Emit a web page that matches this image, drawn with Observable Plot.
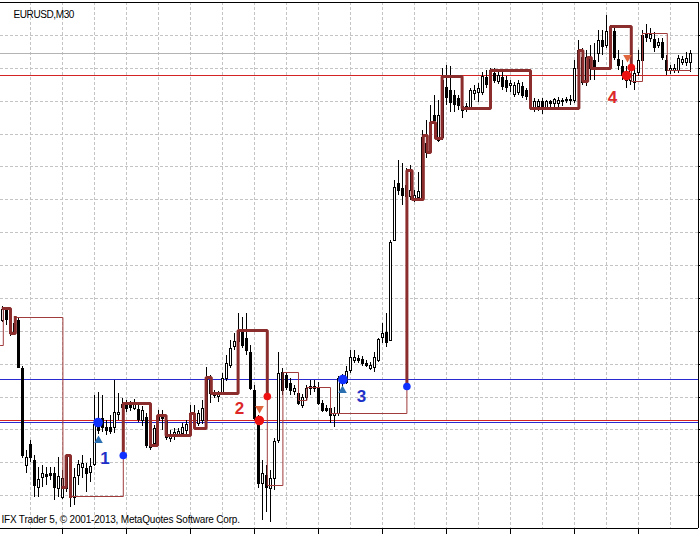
<!DOCTYPE html>
<html><head><meta charset="utf-8">
<script src="https://cdn.jsdelivr.net/npm/d3@7"></script>
<script src="https://cdn.jsdelivr.net/npm/@observablehq/plot@0.6"></script>
<style>
html,body{margin:0;padding:0;background:#fff;}
#chart{width:700px;height:534px;overflow:hidden;}
</style></head><body><div id="chart"></div>
<script>
const symbolTitle = "EURUSD,M30";
const footerText = "IFX Trader 5, © 2001-2013, MetaQuotes Software Corp.";

// M30 candles, index 0..172
const open = [1.34633,1.34663,1.34627,1.34599,1.34633,1.34487,1.34192,1.34256,1.34207,1.34125,
1.34155,1.34164,1.34167,1.34167,1.34122,1.34094,1.34216,1.34213,1.34094,1.34161,
1.34186,1.34183,1.34170,1.34195,1.34329,1.34335,1.34307,1.34307,1.34307,1.34347,
1.34368,1.34374,1.34377,1.34365,1.34362,1.34329,1.34338,1.34246,1.34259,1.34329,
1.34344,1.34329,1.34274,1.34283,1.34286,1.34289,1.34298,1.34319,1.34344,1.34319,
1.34329,1.34329,1.34450,1.34414,1.34402,1.34414,1.34456,1.34496,1.34554,1.34569,
1.34596,1.34578,1.34535,1.34420,1.34329,1.34137,1.34161,1.34122,1.34152,1.34268,
1.34475,1.34465,1.34441,1.34417,1.34411,1.34374,1.34398,1.34426,1.34426,1.34429,
1.34380,1.34365,1.34365,1.34344,1.34350,1.34444,1.34444,1.34481,1.34511,1.34517,
1.34514,1.34502,1.34487,1.34490,1.34511,1.34581,1.34596,1.34572,1.34876,1.35049,
1.35034,1.35010,1.35010,1.35001,1.35007,1.35007,1.35171,1.35150,1.35256,1.35180,
1.35189,1.35341,1.35332,1.35317,1.35308,1.35271,1.35278,1.35278,1.35323,1.35326,
1.35326,1.35372,1.35369,1.35384,1.35360,1.35372,1.35363,1.35348,1.35320,1.35326,
1.35345,1.35332,1.35302,1.35281,1.35284,1.35299,1.35281,1.35299,1.35293,1.35293,
1.35299,1.35302,1.35302,1.35302,1.35399,1.35433,1.35357,1.35430,1.35424,1.35445,
1.35484,1.35469,1.35515,1.35512,1.35427,1.35405,1.35387,1.35363,1.35357,1.35387,
1.35424,1.35506,1.35490,1.35487,1.35469,1.35478,1.35424,1.35393,1.35393,1.35393,
1.35418,1.35418,1.35418];
const high = [1.34675,1.34672,1.34633,1.34639,1.34639,1.34493,1.34237,1.34268,1.34222,1.34186,
1.34192,1.34186,1.34186,1.34186,1.34216,1.34176,1.34222,1.34219,1.34183,1.34207,
1.34222,1.34198,1.34213,1.34405,1.34414,1.34405,1.34329,1.34344,1.34450,1.34411,
1.34395,1.34389,1.34386,1.34392,1.34374,1.34371,1.34350,1.34277,1.34313,1.34359,
1.34359,1.34335,1.34298,1.34304,1.34304,1.34319,1.34329,1.34374,1.34374,1.34359,
1.34389,1.34490,1.34465,1.34420,1.34417,1.34472,1.34526,1.34572,1.34593,1.34654,
1.34642,1.34654,1.34557,1.34435,1.34344,1.34207,1.34192,1.34176,1.34274,1.34535,
1.34487,1.34475,1.34456,1.34435,1.34435,1.34408,1.34435,1.34450,1.34450,1.34444,
1.34389,1.34374,1.34380,1.34368,1.34462,1.34468,1.34493,1.34542,1.34542,1.34526,
1.34523,1.34511,1.34505,1.34535,1.34578,1.34624,1.34654,1.34876,1.35059,1.35119,
1.35110,1.35095,1.35104,1.35028,1.35083,1.35211,1.35241,1.35287,1.35317,1.35302,
1.35399,1.35408,1.35405,1.35332,1.35317,1.35302,1.35293,1.35338,1.35347,1.35354,
1.35387,1.35393,1.35399,1.35399,1.35387,1.35387,1.35375,1.35363,1.35357,1.35363,
1.35357,1.35338,1.35317,1.35308,1.35305,1.35308,1.35302,1.35302,1.35308,1.35311,
1.35308,1.35311,1.35317,1.35424,1.35484,1.35460,1.35454,1.35469,1.35475,1.35515,
1.35515,1.35560,1.35530,1.35521,1.35454,1.35424,1.35405,1.35418,1.35405,1.35454,
1.35515,1.35533,1.35521,1.35509,1.35490,1.35490,1.35439,1.35408,1.35411,1.35439,
1.35436,1.35448,1.35454];
const low = [1.34627,1.34618,1.34584,1.34590,1.34487,1.34213,1.34167,1.34201,1.34094,1.34094,
1.34125,1.34131,1.34146,1.34085,1.34094,1.34088,1.34110,1.34064,1.34070,1.34131,
1.34152,1.34110,1.34140,1.34189,1.34286,1.34292,1.34283,1.34286,1.34289,1.34329,
1.34353,1.34353,1.34356,1.34359,1.34322,1.34310,1.34243,1.34237,1.34249,1.34298,
1.34298,1.34268,1.34262,1.34268,1.34277,1.34277,1.34283,1.34313,1.34304,1.34310,
1.34316,1.34319,1.34380,1.34395,1.34383,1.34405,1.34447,1.34487,1.34542,1.34557,
1.34548,1.34526,1.34420,1.34329,1.34122,1.34024,1.34049,1.34018,1.34116,1.34259,
1.34405,1.34420,1.34405,1.34405,1.34374,1.34365,1.34389,1.34405,1.34414,1.34374,
1.34353,1.34353,1.34319,1.34307,1.34341,1.34432,1.34438,1.34472,1.34502,1.34502,
1.34493,1.34490,1.34481,1.34475,1.34505,1.34563,1.34551,1.34569,1.34873,1.35013,
1.34983,1.34998,1.34998,1.34992,1.35001,1.35001,1.35125,1.35144,1.35186,1.35174,
1.35180,1.35287,1.35265,1.35265,1.35271,1.35247,1.35265,1.35271,1.35302,1.35296,
1.35317,1.35338,1.35363,1.35354,1.35351,1.35332,1.35326,1.35326,1.35311,1.35317,
1.35308,1.35302,1.35271,1.35265,1.35268,1.35259,1.35271,1.35271,1.35281,1.35271,
1.35284,1.35293,1.35287,1.35293,1.35387,1.35348,1.35345,1.35363,1.35363,1.35418,
1.35439,1.35460,1.35484,1.35424,1.35393,1.35363,1.35338,1.35348,1.35332,1.35375,
1.35418,1.35478,1.35478,1.35448,1.35460,1.35424,1.35378,1.35381,1.35384,1.35384,
1.35408,1.35405,1.35387];
const close = [1.34666,1.34636,1.34593,1.34624,1.34490,1.34222,1.34216,1.34216,1.34131,1.34149,
1.34167,1.34158,1.34161,1.34125,1.34158,1.34152,1.34122,1.34094,1.34155,1.34195,
1.34198,1.34167,1.34189,1.34316,1.34298,1.34307,1.34298,1.34295,1.34353,1.34353,
1.34377,1.34365,1.34368,1.34377,1.34332,1.34359,1.34252,1.34268,1.34304,1.34341,
1.34335,1.34277,1.34283,1.34292,1.34295,1.34307,1.34316,1.34350,1.34313,1.34350,
1.34365,1.34456,1.34411,1.34405,1.34411,1.34456,1.34502,1.34548,1.34569,1.34602,
1.34557,1.34542,1.34426,1.34335,1.34137,1.34167,1.34125,1.34152,1.34265,1.34472,
1.34420,1.34429,1.34420,1.34426,1.34380,1.34398,1.34426,1.34432,1.34432,1.34380,
1.34359,1.34359,1.34344,1.34350,1.34456,1.34459,1.34478,1.34520,1.34520,1.34511,
1.34502,1.34496,1.34496,1.34520,1.34575,1.34593,1.34566,1.34870,1.35037,1.35028,
1.35013,1.35043,1.35028,1.35013,1.35025,1.35189,1.35144,1.35235,1.35241,1.35256,
1.35363,1.35311,1.35296,1.35290,1.35287,1.35284,1.35284,1.35332,1.35332,1.35338,
1.35375,1.35351,1.35393,1.35363,1.35378,1.35345,1.35341,1.35354,1.35348,1.35354,
1.35317,1.35314,1.35284,1.35299,1.35299,1.35284,1.35299,1.35293,1.35305,1.35302,
1.35302,1.35305,1.35305,1.35399,1.35454,1.35357,1.35433,1.35399,1.35399,1.35484,
1.35466,1.35512,1.35509,1.35433,1.35408,1.35378,1.35363,1.35393,1.35384,1.35424,
1.35499,1.35493,1.35503,1.35463,1.35478,1.35433,1.35393,1.35399,1.35399,1.35430,
1.35427,1.35430,1.35445];

// stepped trend indicator: level starts (candle index), level price, line style
const stepStart = [-0.5,0.2,2,3.2,15.1,15.9,17,30.2,37,38.75,40.9,47,48,50.9,52.2,58.9,66.2,70.1,74,76.1,82,
  101.1,102.4,105.2,106.2,107,108.25,109.9,114.9,122,132,144.1,145.1,146.3,147.2,152,157.2,160,166.2];
const stepLevel = [1.34557,1.34669,1.34593,1.34642,1.34125,1.34222,1.34097,1.34380,1.34252,1.34344,1.34283,1.34350,1.34304,1.34459,1.34411,1.34602,1.34131,1.34475,1.34389,1.34429,1.34350,
  1.35089,1.35001,1.35195,1.35144,1.35235,1.35186,1.35375,1.35278,1.35393,1.35278,1.35454,1.35360,1.35433,1.35399,1.35526,1.35359,1.35506,1.35393];
const stepStyle = ["thin","thick","thick","thin","thick","thick","thin","thick","thick","thick","thick","thick","thick","thick","thick","thick","thin","thin","thin","thin","thin",
  "thick","thick","thick","thick","thick","thick","thick","thick","thick","thick","thick","thick","thick","thick","thick","thin","thin","thin"];
const stepEnd = 172;

// trend switch dots on the indicator
const switchIdx = [30.2, 66.2, 101.1, 157.2];
const switchPrice = [1.34222, 1.34402, 1.34432, 1.35402];
const switchDir = ["buy", "sell", "buy", "sell"];

// numbered signals
const signalLabel = ["1", "2", "3", "4"];
const signalIdx = [23.9, 64.2, 85.1, 156];
const signalPrice = [1.34322, 1.34329, 1.34453, 1.35378];
const signalDir = ["buy", "sell", "buy", "sell"];
const arrowIdx = [24, 64.25, 85, 156.25];
const arrowPrice = [1.34268, 1.34365, 1.34420, 1.35433];
const labelIdx = [25.6, 59.25, 89.75, 152.5];
const labelPrice = [1.34214, 1.34365, 1.34402, 1.35311];

// horizontal levels
const buyLevels = [1.34453, 1.34322];
const sellLevels = [1.34328, 1.35377];
const bidLevel = [1.35444];

// grid / ticks
const gridPrices = [1.341,1.342,1.343,1.344,1.345,1.346,1.347,1.348,1.349,1.350,1.351,1.352,1.353,1.354,1.355];
const gridIdx = [7,15,23,31,39,47,55,63,71,79,87,95,103,111,119,127,135,143,151,159,167];
const timeTickIdx = [15,31,47,63,79,95,111,127,143,159];
const priceDomain = [1.3400, 1.3560];
const idxDomain = [-0.5, 174];

const C = {
  grid: "#c4c4c4", thick: "#8b2d2d", thin: "#a03c3c",
  buyLine: "#2a2ad2", sellLine: "#d42424", bid: "#b4b4b4",
  buyDot: "#1030ff", sellDot: "#ee1111",
  buyArrow: "#2a6fb0", sellArrow: "#e0643c",
  buyText: "#1e32c8", sellText: "#dc2828"
};

const candles = open.map((o, i) => ({i, open: o, high: high[i], low: low[i], close: close[i], up: close[i] >= o}));

// build step-line polylines
const pts = [];
let pid = 1, curStyle = stepStyle[0], last = {i: stepStart[0], p: stepLevel[0]};
pts.push({id: pid, style: curStyle, i: last.i, p: last.p});
function lineTo(style, i, p) {
  if (style !== curStyle) { pid++; curStyle = style; pts.push({id: pid, style, i: last.i, p: last.p}); }
  pts.push({id: pid, style, i, p}); last = {i, p};
}
for (let k = 0; k < stepStart.length; k++) {
  const e = k + 1 < stepStart.length ? stepStart[k + 1] : stepEnd;
  lineTo(stepStyle[k], e, stepLevel[k]);
  if (k + 1 < stepStart.length) {
    const d = switchIdx.indexOf(e);
    if (d >= 0) { lineTo(stepStyle[k], e, switchPrice[d]); lineTo(stepStyle[k + 1], e, stepLevel[k + 1]); }
    else lineTo(stepStyle[k], e, stepLevel[k + 1]);
  }
}

const switches = switchIdx.map((i, k) => ({i, p: switchPrice[k], dir: switchDir[k]}));
const signals = signalIdx.map((i, k) => ({i, p: signalPrice[k], dir: signalDir[k], label: signalLabel[k],
  ai: arrowIdx[k], ap: arrowPrice[k], li: labelIdx[k], lp: labelPrice[k]}));
const buySig = signals.filter(d => d.dir === "buy"), sellSig = signals.filter(d => d.dir === "sell");
const buySw = switches.filter(d => d.dir === "buy"), sellSw = switches.filter(d => d.dir === "sell");
const FONT = "Liberation Sans, Arial, sans-serif";

const chart = Plot.plot({
  width: 700, height: 534,
  marginLeft: 0, marginRight: 2, marginTop: 2, marginBottom: 6,
  x: {domain: idxDomain, ticks: timeTickIdx, tickSize: 6, tickFormat: () => "", label: null},
  y: {domain: priceDomain, round: true, axis: "right", ticks: gridPrices, tickSize: 2, tickFormat: () => "", label: null},
  style: {background: "white", fontFamily: FONT},
  marks: [
    Plot.ruleY(gridPrices, {stroke: C.grid, strokeDasharray: "3,2"}),
    Plot.ruleX(gridIdx, {stroke: C.grid, strokeDasharray: "3,2"}),
    Plot.ruleY(bidLevel, {stroke: C.bid, strokeWidth: 1}),
    Plot.ruleY(sellLevels, {stroke: C.sellLine, strokeWidth: 1}),
    Plot.ruleY(buyLevels, {stroke: C.buyLine, strokeWidth: 1}),
    Plot.ruleX(candles, {x: "i", y1: "low", y2: "high", stroke: "black", strokeWidth: 1}),
    Plot.rect(candles, {x1: d => d.i - 0.25, x2: d => d.i + 0.25, y1: "open", y2: "close", dx: 0.5, dy: 0.5,
      fill: d => d.up ? "white" : "black", stroke: "black", strokeWidth: 1}),
    Plot.line(pts.filter(d => d.style === "thin"), {x: "i", y: "p", z: "id", stroke: C.thin, strokeWidth: 1}),
    Plot.line(pts.filter(d => d.style === "thick"), {x: "i", y: "p", z: "id", stroke: C.thick, strokeWidth: 3, strokeLinejoin: "miter", strokeLinecap: "square"}),
    Plot.dot(buySw, {x: "i", y: "p", r: 3.8, fill: C.buyDot, stroke: null}),
    Plot.dot(sellSw, {x: "i", y: "p", r: 3.8, fill: C.sellDot, stroke: null}),
    Plot.dot(buySig, {x: "i", y: "p", r: 4.8, fill: C.buyDot, stroke: null}),
    Plot.dot(sellSig, {x: "i", y: "p", r: 4.8, fill: C.sellDot, stroke: null}),
    Plot.dot(buySig, {x: "ai", y: "ap", r: 3.2, symbol: "triangle", fill: C.buyArrow, stroke: null}),
    Plot.dot(sellSig, {x: "ai", y: "ap", r: 3.2, symbol: "triangle", rotate: 180, fill: C.sellArrow, stroke: null}),
    Plot.text(buySig, {x: "li", y: "lp", text: "label", fill: C.buyText, fontSize: 17, fontWeight: "bold", fontFamily: FONT}),
    Plot.text(sellSig, {x: "li", y: "lp", text: "label", fill: C.sellText, fontSize: 17, fontWeight: "bold", fontFamily: FONT}),
    Plot.ruleY([priceDomain[1]], {stroke: "black"}),
    Plot.ruleY([priceDomain[0]], {stroke: "black"}),
    Plot.ruleX([idxDomain[1]], {stroke: "black"}),
    Plot.text([symbolTitle], {text: d => d, frameAnchor: "top-left", textAnchor: "start", dx: 13, dy: 8,
      fontSize: 10, fontFamily: FONT, fill: "black"}),
    Plot.text([footerText], {text: d => d, frameAnchor: "bottom-left", textAnchor: "start", dx: 1, dy: -6,
      fontSize: 10, fontFamily: FONT, fill: "black"})
  ]
});
d3.select(chart).selectAll("text").filter(function() { return this.textContent === footerText; })
  .attr("letter-spacing", "-0.2");
d3.select(chart).selectAll("text").filter(function() { return this.textContent === symbolTitle; })
  .attr("letter-spacing", "-0.4");
document.getElementById("chart").appendChild(chart);
</script>
</body></html>
